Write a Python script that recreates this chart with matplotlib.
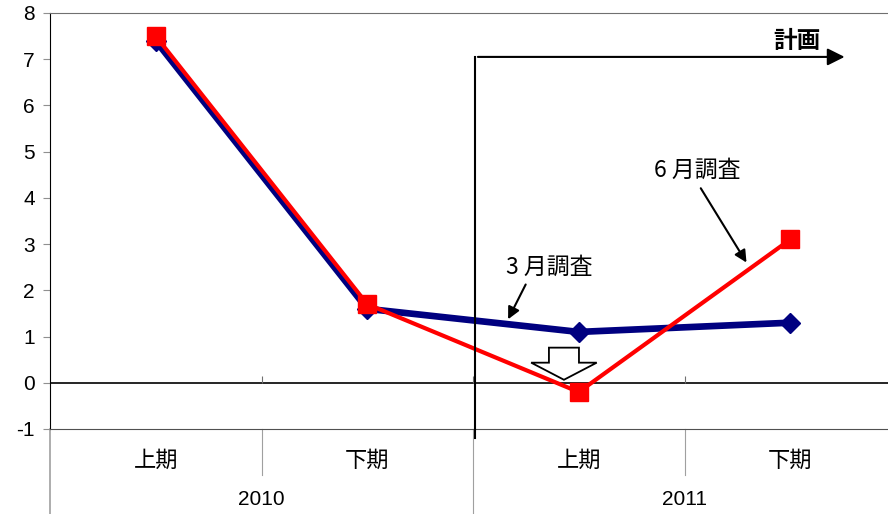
import matplotlib

matplotlib.use("Agg")
import matplotlib.pyplot as plt
from matplotlib.patches import FancyArrow
from matplotlib.transforms import blended_transform_factory

plt.rcParams["font.family"] = ["Noto Sans CJK JP", "DejaVu Sans"]

periods = ["上期", "下期", "上期", "下期"]
years = ["2010", "2011"]
march = [7.4, 1.6, 1.1, 1.3]
june = [7.5, 1.7, -0.2, 3.1]
yticks = list(range(-1, 9))

x = list(range(len(periods)))

fig = plt.figure(figsize=(8.88, 5.14), dpi=100)
ax = fig.add_axes([50 / 888, 85 / 514, 846 / 888, 416 / 514])
ax.set_xlim(-0.5, len(periods) - 0.5)
ax.set_ylim(-1, 8)

ax.plot(x, march, color="#000080", lw=4.8, marker="D", ms=10, zorder=3)
ax.plot(x, june, color="#ff0000", lw=3, marker="s", ms=13, zorder=4)

# axis styling
ax.spines["right"].set_visible(False)
ax.spines["left"].set_color("black")
ax.spines["top"].set_color("#707070")
ax.spines["bottom"].set_color("#505050")
ax.set_yticks(yticks)
ax.set_yticklabels([str(t) for t in yticks], family="Liberation Sans", fontsize=15)
ax.tick_params(axis="y", length=5, color="#909090", pad=6)
ax.set_xticks([])
ax.axhline(0, color="black", lw=1.2, zorder=2)

# divider ticks on the zero line
dividers = [i + 0.5 for i in x[:-1]]
ax.vlines(dividers, 0, 0.15, color="#707070", lw=0.8)

# category / year labels below the axis
trans = blended_transform_factory(ax.transData, ax.transAxes)
for i, label in enumerate(periods):
    ax.text(i, -0.075, label, transform=trans, ha="center", va="center", fontsize=16)
for j, label in enumerate(years):
    ax.text(j * 2 + 0.5, -0.17, label, transform=trans, ha="center", va="center",
            family="Liberation Sans", fontsize=15)
for d in dividers:
    depth = -0.25 if d == 1.5 else -0.11
    ax.plot([d, d], [0, depth], transform=trans, color="#a0a0a0", lw=0.8, clip_on=False)
ax.plot([-0.5, -0.5], [0, -0.25], transform=trans, color="#a0a0a0", lw=1.2, clip_on=False)

# plan marker
ax.plot([1.51, 1.51], [7.05, -1.2], color="black", lw=1.5, clip_on=False, zorder=5)
ax.annotate("", xy=(3.27, 7.05), xytext=(1.51, 7.05),
            arrowprops=dict(arrowstyle="-|>", color="black", lw=1.5, mutation_scale=26))
ax.text(3.03, 7.4, "計画", ha="center", va="center", fontsize=17, fontweight="bold")

# survey labels
ax.text(1.86, 2.5, "3 月調査", ha="center", va="center", fontsize=16.5)
ax.annotate("", xy=(1.66, 1.32), xytext=(1.755, 2.18),
            arrowprops=dict(arrowstyle="-|>", color="black", lw=1.5, mutation_scale=18))
ax.text(2.56, 4.6, "6 月調査", ha="center", va="center", fontsize=16.5)
ax.annotate("", xy=(2.8, 2.55), xytext=(2.57, 4.26),
            arrowprops=dict(arrowstyle="-|>", color="black", lw=1.5, mutation_scale=18))

# hollow down arrow
ax.add_patch(FancyArrow(1.93, 0.76, 0, -0.695, width=0.142, head_width=0.31,
                        head_length=0.37, length_includes_head=True,
                        facecolor="white", edgecolor="black", lw=1.3, zorder=5))

fig.savefig("out.png", dpi=100)
